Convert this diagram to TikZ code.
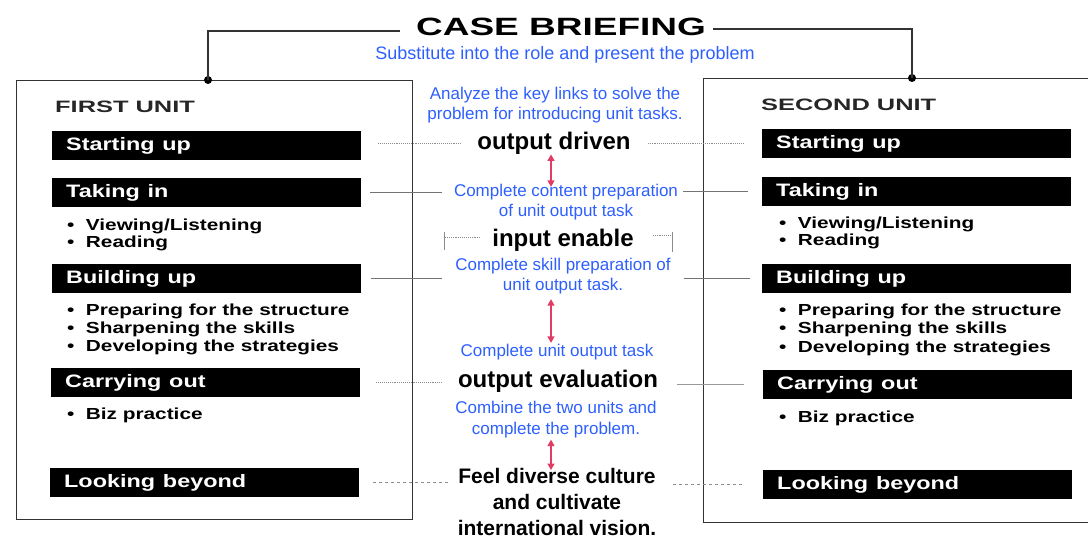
\documentclass[tikz,border=0pt]{standalone}
\usepackage{fontspec}
\setmainfont{Liberation Sans}
\usepackage{graphicx}
\usetikzlibrary{arrows.meta,calc}
\definecolor{cblue}{RGB}{45,95,255}
\definecolor{cred}{RGB}{225,60,100}
\newcommand{\xw}[2]{\scalebox{#1}[1]{#2}}
\begin{document}
\begin{tikzpicture}[x=1pt,y=-1pt,
  frame/.style={draw=black!80, line width=1.1pt},
  bar/.style={fill=black, text=white, anchor=north west, minimum width=309pt,
    minimum height=29pt, inner xsep=14pt, inner ysep=0pt, text width=281pt,
    align=left, font=\fontsize{18}{20}\selectfont\bfseries},
  bul/.style={anchor=base west, inner sep=0pt, font=\fontsize{16}{18}\selectfont\bfseries},
  unit/.style={anchor=base west, inner sep=0pt, text=black!85, font=\fontsize{16.5}{18}\selectfont\bfseries},
  bl/.style={text=cblue, align=center, inner sep=1pt, font=\fontsize{17}{20}\selectfont},
  bk/.style={align=center, inner sep=1pt, font=\fontsize{24}{27}\selectfont\bfseries},
  dotl/.style={draw=black!45, densely dotted, line width=0.9pt},
  soll/.style={draw=black!55, line width=0.9pt},
  tick/.style={draw=black!45, line width=1pt},
  redarr/.style={draw=cred, line width=1.4pt, {Triangle[length=6.5pt,width=7pt]}-{Triangle[length=6.5pt,width=7pt]}},
  dotnode/.style={circle, fill=black, inner sep=0pt, minimum size=8pt}
]
\useasboundingbox (0,0) rectangle (1088,547);

% frames
\node[frame, anchor=north west, minimum width=396pt, minimum height=439pt, inner sep=0pt] (lbox) at (16,80) {};
\node[frame, anchor=north west, minimum width=400pt, minimum height=444pt, inner sep=0pt] (rbox) at (703,78) {};
\node[dotnode] (ld) at (208,80) {};
\node[dotnode] (rd) at (912,78) {};

% title
\node[inner sep=1pt, font=\fontsize{25}{28}\selectfont\bfseries] (title) at (561,27) {\xw{1.48}{CASE BRIEFING}};
\draw[frame] (ld.center) |- ($(title.west)+(-15,4)$);
\draw[frame] ($(title.east)+(6,2)$) -| (rd.center);

% unit headings
\node[unit] (fu) at (55,112) {\xw{1.54}{FIRST UNIT}};
\node[unit] (su) at (761,110) {\xw{1.54}{SECOND UNIT}};

% left bars
\node[bar] (L1) at (52,131) {\xw{1.3}{Starting up}};
\node[bar] (L2) at (52,178) {\xw{1.3}{Taking in}};
\node[bar] (L3) at (52,264) {\xw{1.3}{Building up}};
\node[bar] (L4) at (51,368) {\xw{1.3}{Carrying out}};
\node[bar] (L5) at (50,468) {\xw{1.3}{Looking beyond}};
% right bars
\node[bar] (R1) at (762,129) {\xw{1.3}{Starting up}};
\node[bar] (R2) at (762,177) {\xw{1.3}{Taking in}};
\node[bar] (R3) at (762,264) {\xw{1.3}{Building up}};
\node[bar] (R4) at (763,370) {\xw{1.3}{Carrying out}};
\node[bar] (R5) at (763,470) {\xw{1.3}{Looking beyond}};

% left bullets
\node[bul] (lb1) at (67,230) {\xw{1.3}{\textbullet\hspace{0.55em}Viewing/Listening}};
\node[bul] (lb2) at (67,247) {\xw{1.3}{\textbullet\hspace{0.55em}Reading}};
\node[bul] (lb3) at (67,315) {\xw{1.3}{\textbullet\hspace{0.55em}Preparing for the structure}};
\node[bul] (lb4) at (67,333) {\xw{1.3}{\textbullet\hspace{0.55em}Sharpening the skills}};
\node[bul] (lb5) at (67,351) {\xw{1.3}{\textbullet\hspace{0.55em}Developing the strategies}};
\node[bul] (lb6) at (67,419) {\xw{1.3}{\textbullet\hspace{0.55em}Biz practice}};
% right bullets
\node[bul] (rb1) at (779,228) {\xw{1.3}{\textbullet\hspace{0.55em}Viewing/Listening}};
\node[bul] (rb2) at (779,245) {\xw{1.3}{\textbullet\hspace{0.55em}Reading}};
\node[bul] (rb3) at (779,315) {\xw{1.3}{\textbullet\hspace{0.55em}Preparing for the structure}};
\node[bul] (rb4) at (779,333) {\xw{1.3}{\textbullet\hspace{0.55em}Sharpening the skills}};
\node[bul] (rb5) at (779,352) {\xw{1.3}{\textbullet\hspace{0.55em}Developing the strategies}};
\node[bul] (rb6) at (779,422) {\xw{1.3}{\textbullet\hspace{0.55em}Biz practice}};

% centre texts
\node[bl, font=\fontsize{18}{20}\selectfont] (sub) at (565,55) {Substitute into the role and present the problem};
\node[bl] (ana) at (555,105) {Analyze the key links to solve the\\problem for introducing unit tasks.};
\node[bk] (od) at (554,143) {output driven};
\node[bl] (ccp) at (566,202) {Complete content preparation\\of unit output task};
\node[bk] (ie) at (563,240) {input enable};
\node[bl] (csp) at (563,276) {Complete skill preparation of\\unit output task.};
\node[bl] (cuot) at (557,352) {Complete unit output task};
\node[bk] (oe) at (558,381) {output evaluation};
\node[bl, font=\fontsize{17}{21}\selectfont] (comb) at (556,420) {Combine the two units and\\complete the problem.};
\node[bk, font=\fontsize{21}{26}\selectfont\bfseries] (feel) at (557,502) {Feel diverse culture\\and cultivate\\international vision.};

% red arrows
\coordinate (ax) at (551,0);
\draw[redarr, shorten <=-1pt, shorten >=-4pt] (od.south -| ax) -- (ccp.north -| ax);
\draw[redarr, shorten <=4pt] (csp.south -| ax) -- (cuot.north -| ax);
\draw[redarr, shorten >=-3pt] (comb.south -| ax) -- (feel.north -| ax);

% link lines, row 1 (Starting up)
\draw[dotl] ($(od.west -| L1.east)+(17,0)$) -- ($(od.west)+(-16,0)$);
\draw[dotl] ($(od.east)+(16,0)$) -- ($(od.east -| R1.west)+(-19,0)$);
% row 2 (Taking in)
\draw[soll] ($(L2.east)+(9,0)$) -- ($(L2.east -| ccp.west)+(-11,0)$);
\draw[soll] ($(R2.west -| ccp.east)+(4,0)$) -- ($(R2.west)+(-14,0)$);
% input enable brackets
\draw[dotl] ($(ie.west)+(-11,-3)$) -- ($(ie.west)+(-47,-3)$);
\draw[tick] ($(ie.west)+(-47,-8)$) -- ++(0,18);
\draw[dotl] ($(ie.east)+(18,-5)$) -- ($(ie.east)+(38,-5)$);
\draw[tick] ($(ie.east)+(38,-8)$) -- ++(0,20);
% row 3 (Building up)
\draw[soll] ($(L3.east)+(10,0)$) -- ($(L3.east -| csp.west)+(-12,0)$);
\draw[soll] ($(R3.west -| csp.east)+(12,0)$) -- ($(R3.west)+(-12,0)$);
% row 4 (Carrying out)
\draw[dotl] ($(L4.east)+(16,0)$) -- ($(L4.east -| oe.west)+(-14,0)$);
\draw[soll, black!40] ($(R4.west -| oe.east)+(18,0)$) -- ($(R4.west)+(-19,0)$);
% row 5 (Looking beyond)
\draw[dotl, dashed] ($(L5.east)+(14,0)$) -- ($(L5.east -| feel.west)+(-9,0)$);
\draw[dotl, dashed] ($(R5.west -| feel.east)+(16,0)$) -- ($(R5.west)+(-19,0)$);
\end{tikzpicture}
\end{document}
